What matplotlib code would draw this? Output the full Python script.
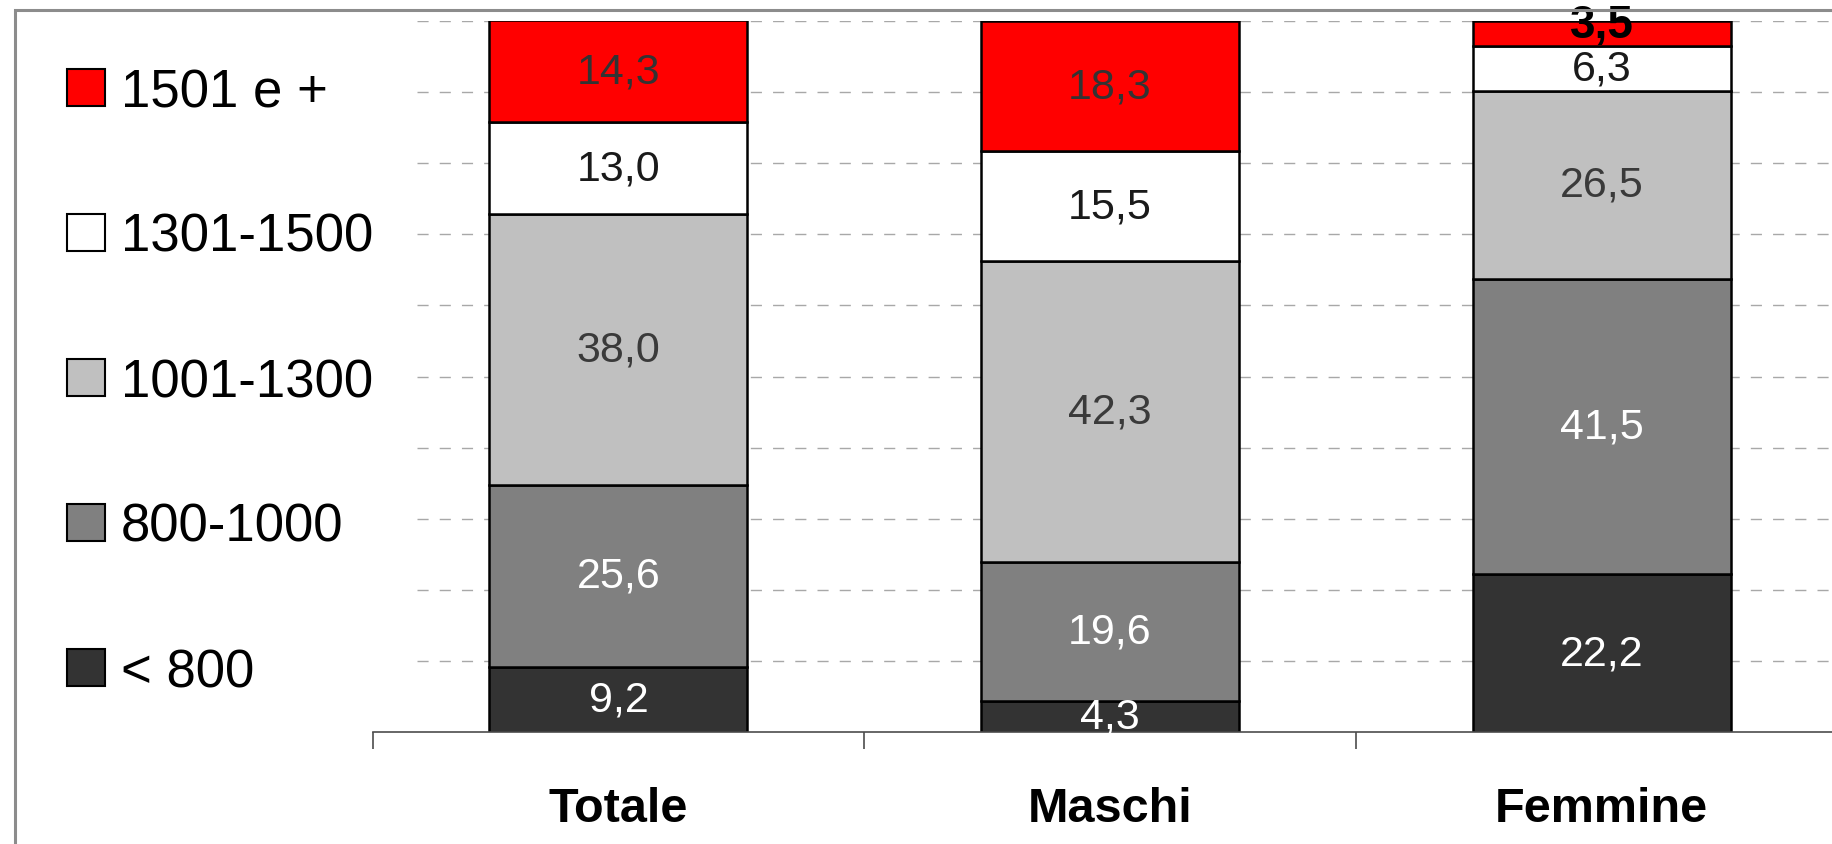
import numpy as np
import matplotlib
matplotlib.use('Agg')
import matplotlib.pyplot as plt
from matplotlib.patches import Patch, Rectangle

plt.rcParams['font.family'] = ['Liberation Sans', 'DejaVu Sans']

# categories and income classes (share of workers, %)
groups = ['Totale', 'Maschi', 'Femmine']
classes = ['< 800', '800-1000', '1001-1300', '1301-1500', '1501 e +']
lt800 = [9.2, 4.3, 22.2]
c800_1000 = [25.6, 19.6, 41.5]
c1001_1300 = [38.0, 42.3, 26.5]
c1301_1500 = [13.0, 15.5, 6.3]
c1501 = [14.3, 18.3, 3.5]

series = [lt800, c800_1000, c1001_1300, c1301_1500, c1501]
colors = ['#333333', '#808080', '#c0c0c0', '#ffffff', '#ff0000']
text_colors = ['white', 'white', '#3a3a3a', '#1a1a1a', '#333333']

fig = plt.figure(figsize=(18.32, 8.45), dpi=100)
ax = fig.add_axes([0.2034, 0.1325, 0.805, 0.8415])

x = np.arange(len(groups))
bottom = np.zeros(len(groups))
for vals, col, tcol in zip(series, colors, text_colors):
    vals = np.array(vals)
    ax.bar(x, vals, width=0.525, bottom=bottom, color=col,
           edgecolor='black', linewidth=1.8, zorder=3)
    for i, v in enumerate(vals):
        lbl = f'{v:.1f}'.replace('.', ',')
        if v < 5 and bottom[i] + v >= 99.9:
            # small top segment: label in bold over the bar edge
            ax.text(x[i], bottom[i] + v - 0.5, lbl, ha='center', va='center',
                    fontsize=33, fontweight='bold', color='black', zorder=5,
                    clip_on=False)
        else:
            ax.text(x[i], bottom[i] + v / 2, lbl, ha='center', va='center',
                    fontsize=31, color=tcol, zorder=5, clip_on=False)
    bottom += vals

# dashed horizontal gridlines
ax.hlines(np.arange(10, 101, 10), -0.41, 3.0, colors='#a8a8a8',
          linestyles=(0, (8, 8)), linewidth=1, zorder=1)

ax.set_xlim(-0.5, 2.5)
ax.set_ylim(0, 100)
ax.set_yticks([])
for s in ['left', 'right', 'top']:
    ax.spines[s].set_visible(False)
ax.spines['bottom'].set_color('#4d4d4d')
ax.spines['bottom'].set_linewidth(1.2)
ax.spines['bottom'].set_zorder(4)

ax.set_xticks(x)
ax.set_xticklabels(groups, fontsize=35, fontweight='bold')
ax.tick_params(axis='x', which='major', length=0, pad=39)
ax.set_xticks([-0.5, 0.5, 1.5, 2.5], minor=True)
ax.tick_params(axis='x', which='minor', length=12, width=1.2, color='#4d4d4d')

handles = [Patch(facecolor=c, edgecolor='black', linewidth=1.5) for c in colors]
fig.legend(handles[::-1], classes[::-1], loc='upper left',
           bbox_to_anchor=(0.0366, 1 - 68 / 845), frameon=False,
           fontsize=38, borderpad=0, borderaxespad=0,
           handlelength=0.72, handleheight=0.7, handletextpad=0.3,
           labelspacing=1.8)

# outer frame of the chart area
fig.patches.append(Rectangle((15 / 1832, -0.2), 1.5, 1.2 - 11 / 845,
                             transform=fig.transFigure, fill=False,
                             edgecolor='#8c8c8c', linewidth=2.2))

fig.savefig('out.png', dpi=100)
